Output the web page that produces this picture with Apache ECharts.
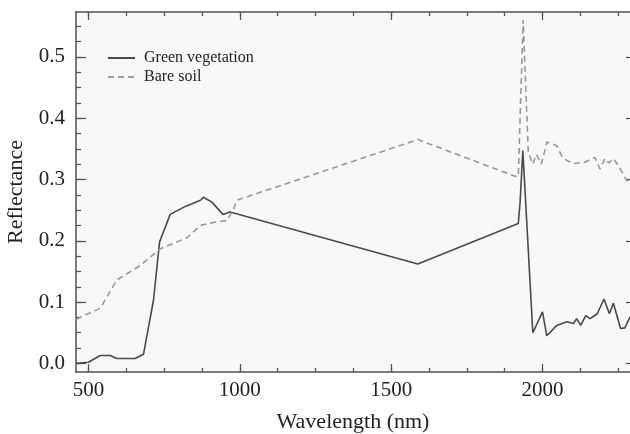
<!DOCTYPE html>
<html>
<head>
<meta charset="utf-8">
<script src="https://cdn.jsdelivr.net/npm/echarts@6/dist/echarts.min.js"></script>
<style>
  html, body { margin: 0; padding: 0; background: #fff; }
  #chart { width: 630px; height: 434px; }
</style>
</head>
<body>
<div id="chart"></div>
<script>
// spectra
const vegWavelength = [460, 500, 539, 572, 594, 654, 682, 715, 735, 770, 820, 870, 880, 908, 944, 968, 1588, 1920, 1926, 1935, 1968, 2000, 2014, 2047, 2080, 2102, 2113, 2126, 2143, 2157, 2181, 2203, 2221, 2234, 2258, 2272, 2289]
const vegReflectance = [0.0, 0.002, 0.013, 0.013, 0.008, 0.008, 0.015, 0.103, 0.198, 0.243, 0.256, 0.266, 0.271, 0.263, 0.243, 0.247, 0.162, 0.228, 0.263, 0.347, 0.05, 0.084, 0.045, 0.062, 0.068, 0.065, 0.073, 0.062, 0.078, 0.073, 0.081, 0.105, 0.081, 0.098, 0.057, 0.058, 0.076]

const soilWavelength = [460, 539, 594, 672, 738, 826, 870, 914, 958, 980, 990, 1588, 1910, 1920, 1936, 1953, 1968, 1980, 1996, 2015, 2047, 2068, 2102, 2140, 2173, 2190, 2206, 2219, 2234, 2251, 2278, 2289]
const soilReflectance = [0.072, 0.09, 0.136, 0.16, 0.187, 0.205, 0.225, 0.23, 0.233, 0.252, 0.266, 0.365, 0.305, 0.305, 0.56, 0.344, 0.325, 0.341, 0.325, 0.361, 0.355, 0.334, 0.326, 0.328, 0.336, 0.317, 0.334, 0.327, 0.334, 0.322, 0.298, 0.298]

const xMajor = [500, 1000, 1500, 2000]
const xMinor = [500, 625, 750, 875, 1000, 1125, 1250, 1375, 1500, 1625, 1750, 1875, 2000, 2125, 2250]
const yMajor = [0, 0.1, 0.2, 0.3, 0.4, 0.5]
const yMinor = [0, 0.025, 0.05, 0.075, 0.1, 0.125, 0.15, 0.175, 0.2, 0.225, 0.25, 0.275, 0.3, 0.325, 0.35, 0.375, 0.4, 0.425, 0.45, 0.475, 0.5, 0.525, 0.55]

const X_MIN = 459, X_MAX = 2289
const Y_MIN = -0.014, Y_MAX = 0.573
const axisColor = '#505050'
const serif = '"Liberation Serif", "DejaVu Serif", serif'

const pairs = (xs, ys) => xs.map((x, i) => [x, ys[i]])

const tickAxis = (kind, position, values, len, showLine, withLabel) => {
  const base = {
    type: 'value',
    position,
    min: kind === 'x' ? X_MIN : Y_MIN,
    max: kind === 'x' ? X_MAX : Y_MAX,
    splitLine: { show: false },
    axisLine: { show: showLine, onZero: false, lineStyle: { color: axisColor, width: 1.5 } },
    axisTick: {
      show: true,
      inside: true,
      length: len,
      customValues: values,
      lineStyle: { color: axisColor, width: 1.2 }
    },
    axisLabel: { show: false }
  }
  if (withLabel) {
    base.axisLabel = {
      show: true,
      customValues: values,
      color: '#222',
      fontFamily: serif,
      fontSize: 21,
      margin: kind === 'x' ? 8 : 11,
      formatter: v => kind === 'x' ? String(Math.round(v)) : v.toFixed(1)
    }
  }
  return base
}

const chart = echarts.init(document.getElementById('chart'))

const xAxes = [
  Object.assign(tickAxis('x', 'bottom', xMajor, 8, true, true), {
    name: 'Wavelength (nm)',
    nameLocation: 'middle',
    nameGap: 39,
    nameTextStyle: { fontFamily: serif, fontSize: 22, color: '#222' }
  }),
  tickAxis('x', 'bottom', xMinor, 4, false, false),
  tickAxis('x', 'top', xMajor, 8, true, false),
  tickAxis('x', 'top', xMinor, 4, false, false)
]

const yAxes = [
  Object.assign(tickAxis('y', 'left', yMajor, 10, true, true), {
    name: 'Reflectance',
    nameLocation: 'middle',
    nameGap: 49,
    nameTextStyle: { fontFamily: serif, fontSize: 22, color: '#222' }
  }),
  tickAxis('y', 'left', yMinor, 5, false, false),
  tickAxis('y', 'right', yMajor, 4, false, false)
]

const option = {
  animation: false,
  backgroundColor: '#fff',
  grid: {
    left: 76,
    right: 0,
    top: 12,
    bottom: 62,
    containLabel: false,
    outerBoundsMode: 'none',
    show: true,
    backgroundColor: '#f8f8f8',
    borderWidth: 0
  },
  legend: {
    orient: 'vertical',
    left: 107,
    top: 50,
    padding: 0,
    itemWidth: 27,
    itemHeight: 14,
    itemGap: 3,
    itemStyle: { opacity: 0 },
    textStyle: { fontFamily: serif, fontSize: 16, color: '#222', padding: [0, 0, 0, 4] },
    data: ['Green vegetation', 'Bare soil']
  },
  xAxis: xAxes,
  yAxis: yAxes,
  series: [
    {
      name: 'Green vegetation',
      type: 'line',
      xAxisIndex: 0,
      yAxisIndex: 0,
      symbol: 'none',
      data: pairs(vegWavelength, vegReflectance),
      itemStyle: { color: '#4a4a4a' },
      lineStyle: { color: '#4a4a4a', width: 1.6 }
    },
    {
      name: 'Bare soil',
      type: 'line',
      xAxisIndex: 0,
      yAxisIndex: 0,
      symbol: 'none',
      data: pairs(soilWavelength, soilReflectance),
      itemStyle: { color: '#999' },
      lineStyle: { color: '#999', width: 1.6, type: [6, 4] }
    }
  ]
}

chart.setOption(option)
</script>
</body>
</html>
